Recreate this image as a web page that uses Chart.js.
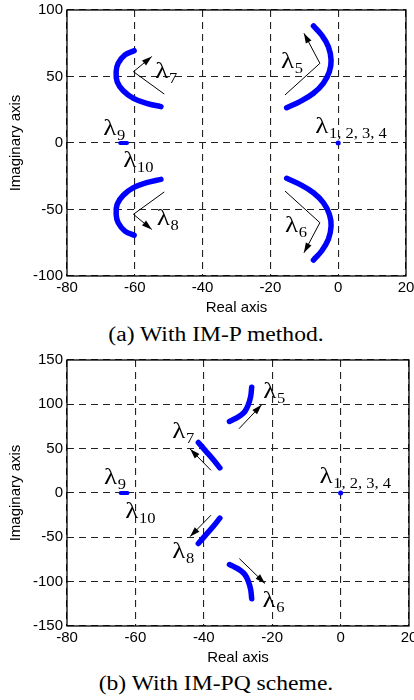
<!DOCTYPE html>
<html>
<head>
<meta charset="utf-8">
<script src="https://cdn.jsdelivr.net/npm/chart.js@4.4.0/dist/chart.umd.min.js"></script>
<style>
    body { margin: 0; background: #fff; width: 414px; height: 700px; position: relative; overflow: hidden; }
    canvas { position: absolute; left: 0; }
    .cap {
        position: absolute; left: 0; width: 432px; text-align: center;
        font-family: "Liberation Serif", "Times New Roman", serif; font-size: 20px; line-height: 24px;
        color: #000; transform: scaleX(1.18); transform-origin: 216px 0;
    }
</style>
</head>
<body>
<canvas id="chart-p" width="414" height="320" style="top:0"></canvas>
<div class="cap" style="top:322px">(a) With IM-P method.</div>
<canvas id="chart-pq" width="414" height="320" style="top:350px"></canvas>
<div class="cap" style="top:671px">(b) With IM-PQ scheme.</div>

<script>
// Axis ticks
const realTicks = [-80, -60, -40, -20, 0, 20];
const imagTicksP = [-100, -50, 0, 50, 100];
const imagTicksPQ = [-150, -100, -50, 0, 50, 100, 150];

// (a) IM-P method: eigenvalue traces as [real, imag]
const pLam5 = [[-7.3, 88], [-4.9, 81.2], [-2.9, 72.4], [-2.1, 62.4], [-2.6, 53.6], [-4.4, 44.9], [-7.3, 37.4], [-11.3, 31.1], [-15.2, 26.5]];
const pLam6 = [[-7.3, -88], [-4.9, -81.2], [-2.9, -72.4], [-2.1, -62.4], [-2.6, -53.6], [-4.4, -44.9], [-7.3, -37.4], [-11.3, -31.1], [-15.2, -26.5]];
const pLam7 = [[-60.2, 69.4], [-62.9, 66.2], [-64.9, 59.9], [-65.5, 53.6], [-65.2, 46.1], [-63.4, 39.3], [-60.4, 33.6], [-56.5, 29.8], [-52.3, 27.3]];
const pLam8 = [[-60.2, -69.4], [-62.9, -66.2], [-64.9, -59.9], [-65.5, -53.6], [-65.2, -46.1], [-63.4, -39.3], [-60.4, -33.6], [-56.5, -29.8], [-52.3, -27.3]];
const pLam910 = [[-64.3, 0], [-62.3, 0]];
const pLam1234 = [[0, 0]];

// (b) IM-PQ scheme
const pqLam5 = [[-32.5, 80.7], [-30.9, 83.7], [-29.4, 87.1], [-28, 91.9], [-27, 99.4], [-26.3, 108.8], [-26, 119.3]];
const pqLam6 = [[-32.5, -80.7], [-30.9, -83.7], [-29.4, -87.1], [-28, -91.9], [-27, -99.4], [-26.3, -108.8], [-26, -119.3]];
const pqLam7 = [[-41.6, 57], [-39.6, 48.1], [-37.2, 37.6], [-35.3, 28.3]];
const pqLam8 = [[-41.6, -57], [-39.6, -48.1], [-37.2, -37.6], [-35.3, -28.3]];
const pqLam910 = [[-64.3, 0], [-62.3, 0]];
const pqLam1234 = [[0, 0]];

// Direction arrows (polyline, head at last point)
const pArrows = [
    [[-51.3, 36.8], [-60.4, 53.6], [-55, 65]],
    [[-15.7, 36.1], [-5.4, 59.9], [-10.1, 82.5]],
    [[-51.3, -36.8], [-60.4, -53.6], [-55, -65]],
    [[-15.7, -36.1], [-5.4, -59.9], [-10.1, -82.5]]
];
const pqArrows = [
    [[-29.7, 72.5], [-23.1, 99.4]],
    [[-37.9, 25.6], [-44, 49.6]],
    [[-37.9, -25], [-44, -49.2]],
    [[-29.6, -74], [-22.1, -102]]
];

// Labels: anchor [real, imag] of the lambda baseline, and subscript
const pLabels = [
    [-54, 48.6, '7'], [-16.9, 56.2, '5'], [-69.3, 6, '9'], [-63.4, -17.8, '10'],
    [-6.8, 7.3, '1, 2, 3, 4'], [-53.5, -61.7, '8'], [-15.7, -66.7, '6']
];
const pqLabels = [
    [-22.6, 107, '5'], [-49.2, 62, '7'], [-69.2, 9.6, '9'], [-63, -27.9, '10'],
    [-6.2, 11.4, '1, 2, 3, 4'], [-49.2, -72.8, '8'], [-22.8, -129, '6']
];

const BLUE = '#0000ff';
const tickFont = { family: '"Liberation Sans", Arial, sans-serif', size: 15 };

function pts(arr) {
    return arr.map(p => ({ x: p[0], y: p[1] }));
}

function curve(arr) {
    return {
        data: pts(arr), showLine: true, borderColor: BLUE, borderWidth: 5.5,
        borderCapStyle: 'round', borderJoinStyle: 'round', tension: 0.4, pointRadius: 0
    };
}

// Frame, arrows and lambda labels
const decorPlugin = {
    id: 'decor',
    beforeDatasetsDraw(chart) {
        const a = chart.chartArea, ctx = chart.ctx;
        ctx.save();
        ctx.strokeStyle = '#000';
        ctx.lineWidth = 1.3;
        ctx.strokeRect(a.left, a.top, a.right - a.left, a.bottom - a.top);
        ctx.restore();
    },
    afterDatasetsDraw(chart, args, opts) {
        const ctx = chart.ctx, xs = chart.scales.x, ys = chart.scales.y;
        ctx.save();
        ctx.strokeStyle = '#000';
        ctx.fillStyle = '#000';
        ctx.lineWidth = 1;
        opts.arrows.forEach(line => {
            const p = line.map(v => [xs.getPixelForValue(v[0]), ys.getPixelForValue(v[1])]);
            ctx.beginPath();
            ctx.moveTo(p[0][0], p[0][1]);
            for (let i = 1; i < p.length; i++) ctx.lineTo(p[i][0], p[i][1]);
            ctx.stroke();
            const e = p[p.length - 1], s = p[p.length - 2];
            const ang = Math.atan2(e[1] - s[1], e[0] - s[0]);
            ctx.beginPath();
            ctx.moveTo(e[0], e[1]);
            ctx.lineTo(e[0] - 10 * Math.cos(ang) + 3.2 * Math.sin(ang), e[1] - 10 * Math.sin(ang) - 3.2 * Math.cos(ang));
            ctx.lineTo(e[0] - 10 * Math.cos(ang) - 3.2 * Math.sin(ang), e[1] - 10 * Math.sin(ang) + 3.2 * Math.cos(ang));
            ctx.closePath();
            ctx.fill();
        });
        opts.labels.forEach(l => {
            ctx.save();
            ctx.translate(xs.getPixelForValue(l[0]), ys.getPixelForValue(l[1]));
            ctx.scale(1.18, 1);
            ctx.textBaseline = 'alphabetic';
            ctx.font = '23px "Liberation Serif", "Times New Roman", serif';
            ctx.fillText('λ', 0, 0);
            const w = ctx.measureText('λ').width;
            ctx.font = '14px "Liberation Serif", "Times New Roman", serif';
            ctx.fillText(l[2], w + 0.5, 5);
            ctx.restore();
        });
        ctx.restore();
    }
};

function makeChart(id, series, yTicks, arrows, labels, rightPad) {
    return new Chart(document.getElementById(id), {
        type: 'scatter',
        data: {
            datasets: [
                curve(series[0]), curve(series[1]), curve(series[2]), curve(series[3]),
                { data: pts(series[4]), showLine: true, borderColor: BLUE, borderWidth: 4, borderCapStyle: 'round', pointRadius: 0 },
                { data: pts(series[5]), pointRadius: 2.5, backgroundColor: BLUE, borderWidth: 0 }
            ]
        },
        options: {
            responsive: false,
            animation: false,
            events: [],
            layout: { padding: { top: 10, right: rightPad, left: 0, bottom: 0 } },
            plugins: {
                legend: { display: false },
                tooltip: { enabled: false },
                decor: { arrows: arrows, labels: labels }
            },
            scales: {
                x: {
                    type: 'linear', min: realTicks[0], max: realTicks[realTicks.length - 1],
                    afterBuildTicks: s => { s.ticks = realTicks.map(v => ({ value: v })); },
                    afterFit: s => { s.height = 44; s.paddingLeft = 0; s.paddingRight = 0; },
                    ticks: { font: tickFont, color: '#000', padding: 3, maxRotation: 0, autoSkip: false },
                    grid: { color: '#222', lineWidth: 1.1, drawTicks: false },
                    border: { display: false, dash: [7, 5] },
                    title: { display: true, text: 'Real axis', font: tickFont, color: '#000', padding: { top: 0, bottom: 3 } }
                },
                y: {
                    type: 'linear', min: yTicks[0], max: yTicks[yTicks.length - 1],
                    afterBuildTicks: s => { s.ticks = yTicks.map(v => ({ value: v })); },
                    afterFit: s => { s.width = 67; s.paddingTop = 0; s.paddingBottom = 0; },
                    ticks: { font: tickFont, color: '#000', padding: 4, autoSkip: false },
                    grid: { color: '#222', lineWidth: 1.1, drawTicks: false },
                    border: { display: false, dash: [7, 5] },
                    title: { display: true, text: 'Imaginary axis', font: tickFont, color: '#000', padding: { top: 7, bottom: 0 } }
                }
            }
        },
        plugins: [decorPlugin]
    });
}

makeChart('chart-p', [pLam5, pLam6, pLam7, pLam8, pLam910, pLam1234], imagTicksP, pArrows, pLabels, 8);
makeChart('chart-pq', [pqLam5, pqLam6, pqLam7, pqLam8, pqLam910, pqLam1234], imagTicksPQ, pqArrows, pqLabels, 5);
</script>
</body>
</html>
